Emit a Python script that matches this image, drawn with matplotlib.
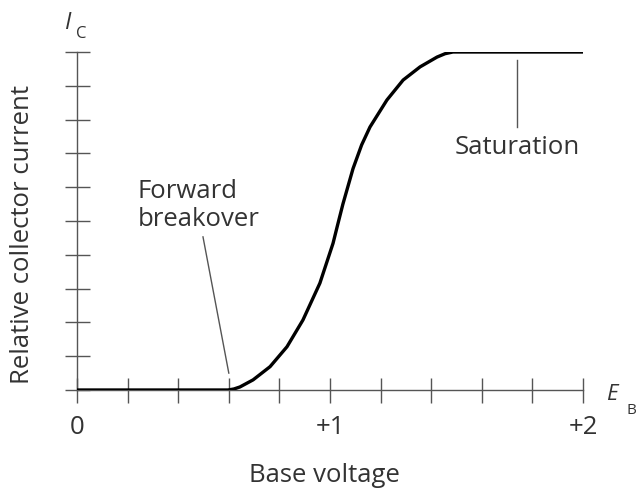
import numpy as np
import matplotlib.pyplot as plt

# base voltage (V) vs relative collector current
base_v = [0.0, 0.597, 0.62, 0.644, 0.696, 0.763, 0.830, 0.893, 0.960, 1.012,
          1.03, 1.051, 1.091, 1.125, 1.158, 1.225, 1.289, 1.356, 1.423, 1.455,
          1.486, 2.0]
rel_ic = [0.0, 0.0, 0.03, 0.09, 0.30, 0.69, 1.28, 2.07, 3.16, 4.34,
          4.88, 5.50, 6.55, 7.25, 7.78, 8.58, 9.17, 9.56, 9.85, 9.95,
          10.0, 10.0]

x_ticks = np.arange(0, 2.01, 0.2)
x_labels = {0: '0', 5: '+1', 10: '+2'}
y_ticks = np.arange(0, 11, 1)

plt.rcParams['font.family'] = ['Open Sans', 'DejaVu Sans']
txt = '#333333'
axis_col = '#555555'
fs = 18.5

fig = plt.figure(figsize=(6.36, 4.91), dpi=100)
ax = fig.add_axes([77 / 636, 101 / 491, 506 / 636, 338 / 491])

ax.plot(base_v, rel_ic, color='black', lw=2.4, solid_joinstyle='round',
        solid_capstyle='butt', zorder=3)

ax.set_xlim(0, 2)
ax.set_ylim(0, 10)
for s in ['top', 'right']:
    ax.spines[s].set_visible(False)
for s in ['left', 'bottom']:
    ax.spines[s].set_color(axis_col)
    ax.spines[s].set_linewidth(1.0)

ax.set_xticks(x_ticks)
ax.set_xticklabels([x_labels.get(i, '') for i in range(len(x_ticks))])
ax.set_yticks(y_ticks)
ax.set_yticklabels([])
ax.tick_params(direction='inout', length=18, width=1.0, color=axis_col,
               labelsize=fs, labelcolor=txt, pad=9)

# axis titles
fig.text(324 / 636, 1 - 476 / 491, 'Base voltage', fontsize=fs, color=txt,
         ha='center', va='center')
fig.text(23 / 636, 1 - 235 / 491, 'Relative collector current', fontsize=fs,
         color=txt, rotation=90, ha='center', va='center')

# axis symbols
fig.text(68 / 636, 1 - 23 / 491, 'I', fontsize=17, style='italic', color=txt,
         ha='center', va='center')
fig.text(81 / 636, 1 - 34 / 491, 'C', fontsize=12, color=txt, ha='center', va='center')
fig.text(612 / 636, 1 - 395 / 491, 'E', fontsize=16, style='italic', color=txt,
         ha='center', va='center')
fig.text(627 / 636, 1 - 411 / 491, 'B', fontsize=11, color=txt, ha='left', va='center')

# annotations
ax.plot([0.498, 0.6], [4.53, 0.5], color=axis_col, lw=1.0)
ax.text(0.241, 5.45, 'Forward\nbreakover', fontsize=fs, color=txt,
        ha='left', va='center', linespacing=1.15)
ax.plot([1.74, 1.74], [9.76, 7.78], color=axis_col, lw=1.0)
ax.text(1.74, 7.16, 'Saturation', fontsize=fs, color=txt, ha='center', va='center')

fig.savefig('out.png', dpi=100)
